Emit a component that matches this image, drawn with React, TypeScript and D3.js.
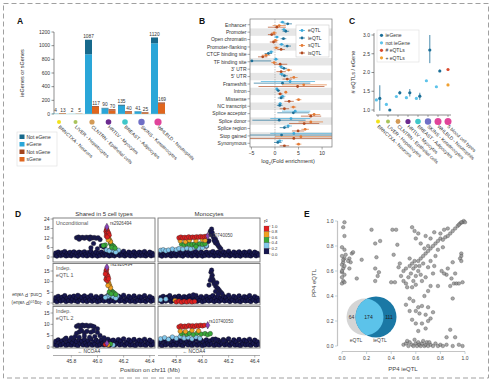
import React from 'react';
import * as d3 from 'd3';

const FONT = '"Liberation Sans", Arial, sans-serif';

// ---------- panel A ----------
const tissues = ['BRNCTXA - Neurons', 'LIVER - Hepatocytes', 'CLNTRN - Epithelial cells', 'HRTLV - Myocytes', 'BREAST - Adipocytes', 'SKINS - Keratinocytes', 'WHLBLD - Neutrophils'];
const tissueColors = ['#f2e21a', '#a9c35a', '#d39a55', '#6b2a8e', '#3fc7c9', '#6f6fc6', '#e0449a'];
const ieGeneTotals = [4, 2, 1087, 90, 135, 41, 1120];
const eGeneCounts = [3, 2, 874, 80, 120, 36, 1035];
const isGeneTotals = [13, 5, 117, 70, 40, 25, 169];
const sGeneCounts = [10, 4, 105, 50, 25, 15, 150];
const legendA = ['Not eGene', 'eGene', 'Not sGene', 'sGene'];
const legendAColors = ['#17698c', '#2aa6d8', '#a3441c', '#e0661e'];

// ---------- panel B ----------
const annotations = ['Enhancer', 'Promoter', 'Open chromatin', 'Promoter-flanking', 'CTCF binding site', 'TF binding site', "3' UTR", "5' UTR", 'Frameshift', 'Intron', 'Missense', 'NC transcript', 'Splice acceptor', 'Splice donor', 'Splice region', 'Stop gained', 'Synonymous'];
const qtlTypes = ['eQTL', 'ieQTL', 'sQTL', 'isQTL'];
const qtlColors = ['#3ba9da', '#1c6f98', '#e47b35', '#b24a1f'];
// [estimate, lower, upper]
const eqtlEnrich = [[1.6, 1.0, 2.2], [1.9, 1.4, 2.4], [0.4, -0.1, 0.9], [1.4, 0.9, 1.9], [-0.8, -1.3, -0.3], [0.2, -0.3, 0.7], [1.3, 0.8, 1.8], [1.4, 0.9, 1.9], [3.2, -3, 8.5], [0.4, 0.1, 0.7], [1.6, 1.0, 2.2], [1.1, 0.7, 1.5], [4.3, 1.5, 7.5], [3.4, -1, 7.5], [2.8, 2.0, 3.6], [4.0, -1, 12.5], [1.0, 0.3, 1.7]];
const ieqtlEnrich = [[2.7, 1.8, 3.6], [2.3, 1.6, 3.0], [1.8, 1.2, 2.4], [2.6, 1.8, 3.4], [-1.4, -2.2, -0.6], [-4.9, -5.5, -0.8], [1.9, 1.2, 2.6], [2.0, 1.3, 2.7], [1.6, -4.5, 7.5], [0.7, 0.3, 1.1], [1.3, 0.6, 2.0], [1.0, 0.4, 1.6], [3.9, 0.5, 7.3], [0.9, -4.8, 6.5], [2.0, 1.0, 3.0], [1.4, -6, 12.5], [0.6, -0.2, 1.4]];
const sqtlEnrich = [[0.9, -0.5, 2.3], [-0.2, -0.8, 0.4], [0.1, -0.5, 0.7], [0.3, -0.3, 0.9], [-1.9, -2.8, -1.0], [-0.2, -0.8, 0.4], [2.9, 2.2, 3.6], [4.0, 3.2, 4.8], [6.1, 1.5, 11], [2.3, 2.0, 2.6], [5.0, 4.4, 5.6], [3.9, 3.3, 4.5], [8.3, 7.0, 9.6], [7.6, 5.0, 10.2], [6.4, 5.6, 7.2], [5.5, 0, 12.5], [5.0, 4.4, 5.6]];
const isqtlEnrich = [[0.4, -1.5, 2.3], [-0.7, -1.5, 0.1], [-0.3, -1.1, 0.5], [1.3, 0.5, 2.1], [-2.6, -3.6, -1.6], [1.1, -0.2, 2.6], [1.3, 0.3, 2.3], [2.6, 1.6, 3.6], [4.8, -3.5, 10.5], [1.1, 0.6, 1.6], [3.0, 2.0, 4.0], [2.0, 1.0, 3.0], [7.6, 5.5, 9.8], [6.2, 3.0, 9.4], [4.9, 3.6, 6.2], [4.0, -6, 12.5], [2.0, 1.0, 3.0]];
const enrichSeries = [eqtlEnrich, ieqtlEnrich, sqtlEnrich, isqtlEnrich];

// ---------- panel C ----------
const tissuesC = [...tissues, '5 blood cell types'];
const tissueColorsC = [...tissueColors, '#e0449a'];
const notIeGeneRatio = [1.27, 1.15, 1.36, 1.33, 1.31, 1.78, 1.62];
const ieGeneRatio = [1.31, 1.0, 1.46, 1.46, 1.37, 2.6, 2.04];
const ieGeneLo = [0.98, 1.0, 1.41, 1.36, 1.27, 2.25, 2.01];
const ieGeneHi = [1.66, 1.0, 1.51, 1.56, 1.46, 3.0, 2.08];
const bloodHashEqtls = 2.08;
const bloodPlusEqtls = 1.67;
const legendC = ['ieGene', 'not ieGene', '# eQTLs', '+ eQTLs'];
const legendCColors = ['#1c6f98', '#5cc3ea', '#d9482b', '#f0a030'];

// ---------- panel D ----------
const r2Colors = ['#17174f', '#84c8ec', '#3aaa3a', '#f0a020', '#e02020', '#8a44b8'];
const r2Labels = ['1.0', '0.8', '0.6', '0.4', '0.2', '0.0'];
const locusBaseline = [[45.67, 1.2], [45.68, 2.5], [45.69, 0.6], [45.70, 3.1], [45.71, 1.8], [45.72, 0.9], [45.73, 2.7], [45.74, 1.4], [45.75, 3.4], [45.76, 0.7], [45.77, 2.2], [45.78, 1.1], [45.79, 2.9], [45.80, 0.8], [45.81, 1.9], [45.82, 3.2], [45.83, 1.0], [45.84, 2.4], [45.85, 0.6], [45.86, 3.0], [45.87, 1.5], [45.88, 2.6], [45.89, 0.9], [45.90, 3.3], [45.91, 1.7], [45.92, 0.7], [45.93, 2.8], [45.94, 1.3], [45.95, 3.5], [45.96, 0.8], [45.97, 2.1], [45.98, 1.2], [45.99, 3.0], [46.00, 0.6], [46.01, 2.3], [46.02, 1.0], [46.03, 3.1], [46.04, 1.6], [46.05, 0.9], [46.06, 2.7], [46.07, 1.3], [46.08, 3.4], [46.09, 0.7], [46.10, 2.5], [46.11, 1.1], [46.12, 3.0], [46.13, 0.8], [46.14, 2.2], [46.15, 1.5], [46.16, 3.2], [46.17, 0.9], [46.18, 2.6], [46.19, 1.2], [46.20, 3.6], [46.21, 0.7], [46.22, 2.0], [46.23, 1.4], [46.24, 3.1], [46.25, 0.8], [46.26, 2.4], [46.27, 1.0], [46.28, 3.3], [46.29, 0.6], [46.30, 2.2], [46.31, 1.3], [46.32, 3.0], [46.33, 0.9], [46.34, 2.6], [46.35, 1.1], [46.36, 3.4], [46.37, 0.7], [46.38, 2.1], [46.39, 1.5], [46.40, 3.0], [46.41, 0.8], [46.42, 2.3], [46.43, 1.2]];
// [position Mb, -log10 p, r2 class (0 navy .. 4 red, 5 lead)]
const sharedUncond = [[45.84, 12.2, 0], [45.855, 12.6, 0], [45.87, 12.0, 0], [45.885, 12.4, 0], [45.9, 11.9, 0], [45.915, 12.5, 0], [45.93, 12.1, 0], [45.945, 12.6, 0], [45.96, 12.0, 0], [45.975, 12.3, 0], [45.99, 11.8, 0], [46.005, 12.2, 0], [45.86, 11.2, 0], [45.94, 11.3, 0], [46.02, 11.0, 0], [45.97, 8.5, 0], [46.03, 7.0, 0], [46.05, 6.2, 0], [45.95, 5.8, 0], [46.0, 5.2, 0],
  [46.07, 4.4, 1], [46.1, 4.6, 1], [46.115, 4.1, 1], [46.13, 4.9, 1], [46.145, 3.6, 1], [46.09, 3.9, 1], [46.16, 4.3, 1], [46.14, 3.0, 1],
  [46.1, 8.6, 2], [46.105, 7.8, 2], [46.115, 7.2, 2], [46.125, 6.6, 2], [46.11, 6.0, 2], [46.06, 7.6, 2], [46.045, 7.2, 2], [46.135, 5.6, 2],
  [46.085, 12.0, 3], [46.09, 11.0, 3], [46.095, 10.3, 3], [46.1, 9.6, 3], [46.082, 10.8, 3],
  [46.065, 16.2, 4], [46.07, 17.6, 4], [46.075, 16.8, 4], [46.08, 15.6, 4], [46.07, 14.8, 4], [46.078, 14.0, 4], [46.085, 15.0, 4], [46.068, 13.2, 4], [46.09, 13.8, 4], [46.075, 12.6, 4],
  [46.072, 19.0, 5]];
const monoUncond = [[46.06, 16.2, 0], [46.065, 14.2, 0], [46.07, 17.6, 0], [46.075, 15.3, 0], [46.08, 13.4, 0], [46.085, 12.2, 0], [46.09, 10.5, 0], [46.1, 8.8, 0], [46.11, 9.4, 0], [46.12, 7.2, 0], [46.13, 6.1, 0], [46.1, 11.2, 0], [46.14, 5.2, 0], [46.05, 10.2, 0], [46.04, 9.6, 0], [46.03, 6.8, 0], [46.095, 9.8, 0], [46.115, 8.0, 0],
  [45.68, 4.2, 1], [45.7, 4.6, 1], [45.72, 3.9, 1], [45.74, 4.4, 1], [45.77, 5.0, 1], [45.8, 4.6, 1], [45.82, 5.3, 1], [45.85, 4.9, 1], [45.88, 5.6, 1], [45.91, 5.1, 1], [45.94, 6.0, 1], [45.97, 5.6, 1], [46.0, 5.8, 1], [46.03, 7.1, 1],
  [45.84, 8.1, 2], [45.86, 7.7, 2], [45.88, 8.3, 2], [45.9, 8.0, 2], [45.92, 7.8, 2], [45.94, 8.2, 2], [45.96, 8.1, 2], [45.98, 8.4, 2], [46.0, 8.0, 2], [46.02, 8.3, 2], [45.95, 6.6, 2],
  [45.83, 10.2, 3], [45.87, 9.6, 3], [45.9, 10.6, 3], [45.95, 10.3, 3], [46.0, 11.0, 3], [46.02, 10.4, 3],
  [45.82, 12.1, 4], [45.835, 12.6, 4], [45.85, 12.0, 4], [45.865, 12.4, 4], [45.88, 12.1, 4], [45.895, 12.7, 4], [45.91, 12.2, 4], [45.925, 12.6, 4], [45.94, 12.3, 4], [45.955, 12.8, 4], [45.97, 12.5, 4], [45.985, 12.9, 4], [46.0, 12.6, 4], [46.015, 12.9, 4], [46.03, 13.1, 4],
  [46.04, 13.2, 5]];
const sharedIndep1 = [[45.85, 3.6, 0],
  [46.08, 3.1, 1], [46.1, 3.6, 1], [46.12, 2.9, 1], [46.15, 3.2, 1], [46.06, 2.6, 1], [46.14, 2.2, 1],
  [46.1, 6.0, 2], [46.11, 5.5, 2], [46.12, 5.0, 2], [46.13, 4.5, 2], [46.09, 5.1, 2], [46.14, 4.0, 2], [46.105, 4.3, 2],
  [46.085, 9.6, 3], [46.09, 8.6, 3], [46.095, 7.8, 3], [46.1, 7.1, 3], [46.08, 8.2, 3],
  [46.065, 15.0, 4], [46.07, 14.0, 4], [46.075, 13.0, 4], [46.07, 12.0, 4], [46.065, 11.0, 4], [46.08, 12.5, 4], [46.075, 10.5, 4], [46.06, 13.6, 4], [46.085, 11.4, 4], [46.07, 15.8, 4],
  [46.072, 16.8, 5]];
const monoIndep1 = [[46.065, 14.4, 0], [46.07, 15.4, 0], [46.075, 13.0, 0], [46.07, 12.0, 0], [46.08, 11.0, 0], [46.085, 10.0, 0], [46.09, 9.0, 0], [46.1, 8.0, 0], [46.11, 7.2, 0], [46.12, 6.6, 0], [46.13, 5.8, 0], [46.14, 5.0, 0], [46.15, 4.4, 0], [46.1, 5.4, 0], [46.06, 10.6, 0], [46.05, 8.4, 0], [46.11, 9.5, 0], [46.12, 4.2, 0], [45.93, 3.8, 0],
  [45.68, 1.5, 1], [45.72, 1.8, 1], [45.79, 1.2, 3],
  [45.8, 0.5, 4], [45.82, 0.9, 4], [45.84, 0.4, 4], [45.86, 0.8, 4], [45.88, 0.5, 4], [45.9, 0.9, 4], [45.92, 0.5, 4], [45.94, 0.7, 4]];
const sharedIndep2 = [[45.84, 9.1, 0], [45.855, 9.6, 0], [45.87, 9.2, 0], [45.885, 9.7, 0], [45.9, 9.3, 0], [45.915, 9.6, 0], [45.93, 9.1, 0], [45.945, 9.5, 0], [45.96, 9.2, 0], [45.975, 8.9, 0], [45.87, 8.4, 0], [46.0, 8.0, 0], [45.86, 6.6, 0], [45.88, 7.1, 0], [45.9, 6.3, 0], [45.92, 6.9, 0], [45.95, 6.5, 0], [45.97, 7.1, 0], [46.0, 6.4, 0], [45.84, 6.0, 0], [45.8, 4.1, 0], [45.83, 4.6, 0], [45.86, 4.3, 0], [45.9, 4.9, 0], [45.94, 4.3, 0], [45.98, 4.6, 0], [46.02, 5.0, 0], [46.05, 4.1, 0], [45.76, 3.9, 0],
  [46.12, 0.9, 1], [46.1, 1.3, 2], [46.08, 0.9, 3], [46.06, 1.1, 4], [46.072, 1.6, 5]];
const monoIndep2 = [[46.1, 3.5, 0], [46.16, 2.8, 0],
  [45.68, 3.6, 1], [45.71, 4.1, 1], [45.74, 3.4, 1], [45.77, 4.4, 1], [45.8, 3.8, 1], [45.83, 4.6, 1], [45.86, 3.9, 1], [45.89, 4.2, 1], [45.92, 3.6, 1], [45.95, 4.4, 1], [45.98, 3.8, 1],
  [45.84, 5.8, 2], [45.86, 6.2, 2], [45.88, 5.6, 2], [45.9, 6.0, 2], [45.93, 5.5, 2], [45.96, 6.1, 2], [45.99, 5.7, 2], [46.02, 5.9, 2], [46.04, 5.4, 2], [46.06, 5.9, 2],
  [45.83, 7.0, 3], [45.87, 6.8, 3], [45.92, 7.3, 3], [45.97, 7.1, 3],
  [45.82, 8.9, 4], [45.835, 9.3, 4], [45.85, 8.8, 4], [45.865, 9.2, 4], [45.88, 9.0, 4], [45.895, 9.5, 4], [45.91, 9.1, 4], [45.925, 9.4, 4], [45.94, 9.0, 4], [45.955, 9.5, 4], [45.97, 9.2, 4], [45.985, 9.6, 4], [46.0, 9.3, 4], [46.015, 9.6, 4],
  [46.04, 9.6, 5]];
const positionTicks = [45.8, 46.0, 46.2, 46.4];

// ---------- panel E ----------
const pp4Points = [[0.02, 0.99], [0.01, 0.95], [0.02, 0.88], [0.0, 0.79], [0.02, 0.77], [0.0, 0.72], [0.02, 0.70], [0.03, 0.73], [0.01, 0.67], [0.0, 0.65], [0.01, 0.62], [0.0, 0.59], [0.02, 0.57], [0.0, 0.55], [0.01, 0.52], [0.0, 0.50], [0.02, 0.51], [0.0, 0.60], [0.02, 0.64], [0.01, 0.69],
  [0.08, 0.74], [0.06, 0.70], [0.07, 0.67], [0.09, 0.75], [0.06, 0.62], [0.05, 0.68], [0.12, 0.54], [0.16, 0.69], [0.24, 0.93], [0.27, 0.82], [0.27, 0.62], [0.28, 0.71], [0.29, 0.56], [0.30, 0.59], [0.31, 0.84], [0.27, 0.52],
  [0.41, 0.93], [0.44, 0.93], [0.45, 0.81], [0.42, 0.73], [0.40, 0.51], [0.43, 0.51], [0.46, 0.63], [0.47, 0.66],
  [0.5, 0.6], [0.52, 0.62], [0.55, 0.64], [0.57, 0.66], [0.58, 0.62], [0.6, 0.64], [0.62, 0.68], [0.64, 0.70], [0.66, 0.72], [0.68, 0.74], [0.70, 0.76], [0.72, 0.78], [0.74, 0.80], [0.76, 0.82], [0.78, 0.84], [0.80, 0.86], [0.82, 0.85], [0.84, 0.87], [0.86, 0.88], [0.88, 0.90], [0.90, 0.92], [0.92, 0.94], [0.94, 0.96], [0.96, 0.98], [0.98, 0.99], [0.99, 1.0], [0.97, 0.99], [0.95, 0.97], [1.0, 0.99],
  [0.48, 0.56], [0.50, 0.52], [0.52, 0.50], [0.54, 0.55], [0.56, 0.58], [0.58, 0.52], [0.60, 0.56], [0.62, 0.60], [0.64, 0.57], [0.53, 0.47], [0.57, 0.47], [0.60, 0.49], [0.65, 0.52], [0.68, 0.55], [0.70, 0.63], [0.72, 0.68], [0.66, 0.66], [0.63, 0.64], [0.59, 0.68], [0.55, 0.70],
  [0.57, 0.95], [0.59, 0.92], [0.62, 0.90], [0.60, 0.86], [0.64, 0.82], [0.68, 0.88], [0.72, 0.86], [0.75, 0.91], [0.80, 0.90], [0.83, 0.93], [0.86, 0.94], [0.70, 0.80], [0.67, 0.78], [0.78, 0.77], [0.82, 0.79], [0.76, 0.72],
  [0.97, 0.74], [0.97, 0.72], [0.96, 0.70], [0.97, 0.68], [0.90, 0.67], [0.92, 0.58], [0.91, 0.50], [0.89, 0.54], [0.86, 0.62], [0.85, 0.57], [0.93, 0.50], [0.95, 0.50], [0.88, 0.48], [0.90, 0.38], [0.98, 0.51], [0.83, 0.58], [0.81, 0.60], [0.75, 0.64], [0.74, 0.58], [0.78, 0.48], [0.72, 0.48], [0.70, 0.44],
  [0.55, 0.38], [0.58, 0.36], [0.62, 0.31], [0.65, 0.32], [0.60, 0.28], [0.63, 0.26], [0.68, 0.25], [0.70, 0.31], [0.67, 0.40], [0.72, 0.22], [0.74, 0.27], [0.57, 0.21], [0.60, 0.18], [0.65, 0.18], [0.68, 0.14], [0.70, 0.20], [0.52, 0.33], [0.55, 0.28], [0.62, 0.12], [0.88, 0.13], [0.92, 0.07], [0.85, 0.07],
  [0.50, 0.01], [0.52, 0.02], [0.54, 0.0], [0.55, 0.03], [0.57, 0.01], [0.58, 0.0], [0.6, 0.02], [0.61, 0.0], [0.62, 0.03], [0.63, 0.01], [0.64, 0.0], [0.65, 0.02], [0.66, 0.04], [0.67, 0.0], [0.68, 0.01], [0.69, 0.03], [0.70, 0.0], [0.72, 0.01], [0.74, 0.0], [0.76, 0.02], [0.78, 0.0], [0.80, 0.01], [0.82, 0.0], [0.85, 0.01], [0.90, 0.0], [0.95, 0.01], [0.98, 0.0], [0.53, 0.04], [0.59, 0.05], [0.71, 0.03]];
const vennCounts = [64, 174, 111];
const unitTicks = [0, 0.2, 0.4, 0.6, 0.8, 1.0];

const label = (s: string, x: number, y: number) => (
  <text x={x} y={y} fontSize={8.5} fontWeight="bold" fill="#111">{s}</text>
);

function PanelA() {
  const x = d3.scaleBand<number>().domain(d3.range(tissues.length)).range([50.75, 166.25]);
  const y = d3.scaleLinear().domain([0, 1200]).range([114, 32]);
  const bw = 7;
  return (
    <g>
      {label('A', 17, 24)}
      <line x1={54} x2={54} y1={y(1200)} y2={y(0)} stroke="#444" strokeWidth={0.6} />
      {y.ticks(6).map(t => (
        <g key={t}>
          <line x1={51.5} x2={54} y1={y(t)} y2={y(t)} stroke="#444" strokeWidth={0.6} />
          <text x={50} y={y(t) + 1.8} textAnchor="end" fontSize={5} fill="#333">{t}</text>
        </g>
      ))}
      <text transform="translate(24,73) rotate(-90)" textAnchor="middle" fontSize={5.5} fill="#333">ieGenes or sGenes</text>
      {tissues.map((name, i) => {
        const c = x(i)! + x.bandwidth() / 2;
        return (
          <g key={name}>
            <rect x={c - bw} width={bw} y={y(eGeneCounts[i])} height={y(0) - y(eGeneCounts[i])} fill={legendAColors[1]} />
            <rect x={c - bw} width={bw} y={y(ieGeneTotals[i])} height={y(eGeneCounts[i]) - y(ieGeneTotals[i])} fill={legendAColors[0]} />
            <rect x={c} width={bw} y={y(sGeneCounts[i])} height={y(0) - y(sGeneCounts[i])} fill={legendAColors[3]} />
            <rect x={c} width={bw} y={y(isGeneTotals[i])} height={y(sGeneCounts[i]) - y(isGeneTotals[i])} fill={legendAColors[2]} />
            <text x={c - bw / 2} y={y(ieGeneTotals[i]) - 1.5} textAnchor="middle" fontSize={4.8} fill="#333">{ieGeneTotals[i]}</text>
            <text x={c + bw / 2 + 0.5} y={y(isGeneTotals[i]) - 1.5} textAnchor="middle" fontSize={4.8} fill="#333">{isGeneTotals[i]}</text>
            <circle cx={c} cy={122} r={[2, 2, 2.6, 2.8, 2.8, 3.2, 3.6][i]} fill={tissueColors[i]} />
            <text transform={`translate(${c - 1},${127.5}) rotate(43)`} fontSize={4.8} fill="#333">{name}</text>
          </g>
        );
      })}
      <line x1={52} x2={166} y1={y(0)} y2={y(0)} stroke="#9cc" strokeWidth={0.5} />
      <rect x={17} y={132} width={40} height={34} fill="#fff" stroke="#ddd" strokeWidth={0.6} />
      {legendA.map((s, i) => (
        <g key={s}>
          <rect x={19.5} y={134.5 + i * 7.5} width={5} height={4.5} fill={legendAColors[i]} />
          <text x={26.5} y={138.6 + i * 7.5} fontSize={5} fill="#333">{s}</text>
        </g>
      ))}
    </g>
  );
}

function PanelB() {
  const x = d3.scaleLinear().domain([-5.3, 12.1]).range([250, 332]);
  const y = d3.scaleBand<string>().domain(annotations).range([21, 147]);
  const offsets = [-2.5, -0.85, 0.85, 2.5];
  return (
    <g>
      {label('B', 199, 24)}
      <defs>
        <clipPath id="clipB"><rect x={250} y={19} width={82} height={128} /></clipPath>
      </defs>
      {annotations.map((a, i) => i % 2 === 1 ? (
        <rect key={a} x={250} width={82} y={y(a)!} height={y.bandwidth()} fill="#e6e6e6" />
      ) : null)}
      <line x1={x(0)} x2={x(0)} y1={19} y2={147} stroke="#999" strokeWidth={0.6} strokeDasharray="1.5,1" />
      <g clipPath="url(#clipB)">
        {enrichSeries.map((series, s) => series.map((d, i) => {
          const cy = y(annotations[i])! + y.bandwidth() / 2 + offsets[s];
          return (
            <g key={s + '-' + i}>
              <line x1={x(d[1])} x2={x(d[2])} y1={cy} y2={cy} stroke={qtlColors[s]} strokeWidth={0.8} opacity={0.85} />
              <circle cx={x(d[0])} cy={cy} r={1.4} fill={qtlColors[s]} />
            </g>
          );
        }))}
      </g>
      <rect x={250} y={19} width={82} height={128} fill="none" stroke="#777" strokeWidth={0.7} />
      {annotations.map(a => (
        <g key={a}>
          <line x1={247.5} x2={250} y1={y(a)! + y.bandwidth() / 2} y2={y(a)! + y.bandwidth() / 2} stroke="#555" strokeWidth={0.5} />
          <text x={246.5} y={y(a)! + y.bandwidth() / 2 + 1.8} textAnchor="end" fontSize={5} fill="#333">{a}</text>
        </g>
      ))}
      {[-5, 0, 5, 10].map(t => (
        <g key={t}>
          <line x1={x(t)} x2={x(t)} y1={147} y2={149.5} stroke="#555" strokeWidth={0.5} />
          <text x={x(t)} y={155} textAnchor="middle" fontSize={5.2} fill="#333">{t === -5 ? '−5' : t}</text>
        </g>
      ))}
      <text x={288} y={163} textAnchor="middle" fontSize={5.6} fill="#333">log<tspan fontSize={4} dy={1.5}>2</tspan><tspan dy={-1.5}>(Fold enrichment)</tspan></text>
      <rect x={296} y={25} width={33} height={32} fill="#fff" stroke="#ccc" strokeWidth={0.6} />
      {qtlTypes.map((q, i) => (
        <g key={q}>
          <line x1={299} x2={305} y1={30.5 + i * 7.5} y2={30.5 + i * 7.5} stroke={qtlColors[i]} strokeWidth={0.7} />
          <circle cx={302} cy={30.5 + i * 7.5} r={1.4} fill={qtlColors[i]} />
          <text x={308} y={32.3 + i * 7.5} fontSize={5} fill="#333">{q}</text>
        </g>
      ))}
    </g>
  );
}

function PanelC() {
  const x = d3.scaleBand<number>().domain(d3.range(tissuesC.length)).range([373, 453]);
  const y = d3.scaleLinear().domain([1, 3]).range([110, 35]);
  const cx = (i: number) => x(i)! + x.bandwidth() / 2;
  return (
    <g>
      {label('C', 349, 24)}
      <line x1={374} x2={374} y1={33} y2={112} stroke="#444" strokeWidth={0.6} />
      {[1.0, 1.5, 2.0, 2.5, 3.0].map(t => (
        <g key={t}>
          <line x1={371.5} x2={374} y1={y(t)} y2={y(t)} stroke="#444" strokeWidth={0.6} />
          <text x={370} y={y(t) + 1.8} textAnchor="end" fontSize={5} fill="#333">{t.toFixed(1)}</text>
        </g>
      ))}
      <line x1={376} x2={451} y1={115} y2={115} stroke="#444" strokeWidth={0.6} />
      <text transform="translate(355,72) rotate(-90)" textAnchor="middle" fontSize={5.6} fill="#333"># eQTLs / eGene</text>
      {tissuesC.map((name, i) => (
        <g key={name}>
          <line x1={cx(i)} x2={cx(i)} y1={115} y2={117} stroke="#444" strokeWidth={0.5} />
          <circle cx={cx(i)} cy={121.5} r={[2, 2, 2.4, 2.6, 2.8, 3.2, 3.5, 3.5][i]} fill={tissueColorsC[i]} />
          <text transform={`translate(${cx(i) - 1},${127}) rotate(43)`} fontSize={4.8} fill="#333">{name}</text>
        </g>
      ))}
      {notIeGeneRatio.map((v, i) => (
        <circle key={'n' + i} cx={cx(i) - 1.6} cy={y(v)} r={1.6} fill={legendCColors[1]} />
      ))}
      {ieGeneRatio.map((v, i) => (
        <g key={'i' + i}>
          <line x1={cx(i) + 1.8} x2={cx(i) + 1.8} y1={y(ieGeneLo[i])} y2={y(ieGeneHi[i])} stroke={legendCColors[0]} strokeWidth={0.8} />
          <circle cx={cx(i) + 1.8} cy={y(v)} r={1.6} fill={legendCColors[0]} />
        </g>
      ))}
      <circle cx={cx(7)} cy={y(bloodHashEqtls)} r={1.6} fill={legendCColors[2]} />
      <circle cx={cx(7)} cy={y(bloodPlusEqtls)} r={1.6} fill={legendCColors[3]} />
      <rect x={377} y={30} width={42} height={32} fill="#fff" stroke="#ddd" strokeWidth={0.6} />
      {legendC.map((s, i) => (
        <g key={s}>
          <circle cx={381.5} cy={35.3 + i * 7.5} r={1.6} fill={legendCColors[i]} />
          <text x={385.5} y={37.1 + i * 7.5} fontSize={5} fill="#333">{s}</text>
        </g>
      ))}
    </g>
  );
}

const diamond = d3.symbol().type(d3.symbolDiamond).size(16)()!;

function LocusPanel({ x0, x1, top, bottom, y, pts, id, leftAxis, ticks, note, snp, box }: any) {
  const x = d3.scaleLinear().domain([45.66, 46.44]).range([x0, x1]);
  const order = [0, 1, 2, 3, 4, 5];
  return (
    <g>
      <defs>
        <clipPath id={id}><rect x={x0} y={top} width={x1 - x0} height={bottom - top} /></clipPath>
      </defs>
      <g clipPath={`url(#${id})`}>
        {box && (
          <g>
            <rect x={x(box[0])} width={x(box[1]) - x(box[0])} y={y(box[3])} height={y(box[2]) - y(box[3])} fill="#b9b4dc" opacity={0.8} />
            <text x={x(box[0]) + 2} y={y(box[2]) - 2} fontSize={4.2} fill="#eeeeff">{box[4]}</text>
          </g>
        )}
        {locusBaseline.map((d, i) => (
          <circle key={'b' + i} cx={x(d[0])} cy={y(d[1])} r={2.4} fill={r2Colors[0]} stroke="#000" strokeWidth={0.3} />
        ))}
        {order.map(c => pts.filter((d: number[]) => d[2] === c).map((d: number[], i: number) => (
          c === 5 ? (
            <path key={c + '-' + i} d={diamond} transform={`translate(${x(d[0])},${y(d[1])})`} fill={r2Colors[5]} stroke="#222" strokeWidth={0.4} />
          ) : (
            <circle key={c + '-' + i} cx={x(d[0])} cy={y(d[1])} r={2.3} fill={r2Colors[c]} stroke="#222" strokeWidth={0.35} />
          )
        )))}
        {snp && <text x={x(snp[1])} y={y(snp[2])} fontSize={4.6} fill="#444">{snp[0]}</text>}
      </g>
      <rect x={x0} y={top} width={x1 - x0} height={bottom - top} fill="none" stroke="#777" strokeWidth={0.9} />
      {note && note.map((s: string, i: number) => (
        <text key={s} x={x0 + 3} y={top + 6.5 + i * 6.5} fontSize={5.3} fill="#555">{s}</text>
      ))}
      {leftAxis && ticks.map((t: number) => (
        <g key={t}>
          <line x1={x0 - 2.5} x2={x0} y1={y(t)} y2={y(t)} stroke="#555" strokeWidth={0.5} />
          <text x={x0 - 3.5} y={y(t) + 1.8} textAnchor="end" fontSize={5} fill="#333">{t}</text>
        </g>
      ))}
    </g>
  );
}

function PanelD() {
  const cols = [[53, 155], [158, 260]];
  const rows = [
    { top: 218, bottom: 262, y: d3.scaleLinear().domain([0, 24]).range([257, 219]), ticks: [0, 6, 12, 18, 24] },
    { top: 263.5, bottom: 305, y: d3.scaleLinear().domain([0, 15]).range([303, 271]), ticks: [0, 5, 10, 15] },
    { top: 306.5, bottom: 348, y: d3.scaleLinear().domain([0, 15]).range([347, 313]), ticks: [0, 5, 10, 15] },
  ];
  const panels = [
    [sharedUncond, monoUncond],
    [sharedIndep1, monoIndep1],
    [sharedIndep2, monoIndep2],
  ];
  const notes = [['Unconditional'], ['Indep.', 'eQTL 1'], ['Indep.', 'eQTL 2']];
  const snps = [
    [['rs2926494', 46.095, 20.3], ['rs10740050', 46.045, 12.6]],
    [['rs2926494', 46.1, 17.4], null],
    [null, ['rs10740050', 46.05, 10.4]],
  ];
  const boxes = [[null, null], [null, [46.035, 46.27, 0, 3.7, 'rs10740050']], [[46.096, 46.27, 0.9, 4, 'rs2926494'], null]];
  return (
    <g>
      {label('D', 15, 217)}
      <text x={104} y={216} textAnchor="middle" fontSize={6} fill="#333">Shared in 5 cell types</text>
      <text x={209} y={216} textAnchor="middle" fontSize={6} fill="#333">Monocytes</text>
      {rows.map((r, ri) => cols.map((c, ci) => (
        <LocusPanel key={ri + '-' + ci} id={`clipD${ri}${ci}`} x0={c[0]} x1={c[1]} top={r.top} bottom={r.bottom} y={r.y}
          pts={panels[ri][ci]} leftAxis={ci === 0} ticks={r.ticks} note={ci === 0 ? notes[ri] : null}
          snp={snps[ri][ci]} box={boxes[ri][ci]} />
      )))}
      <g transform="translate(27,297.5) rotate(180)">
        <text y={-3.5} textAnchor="middle" fontSize={4.8} fill="#444">-log<tspan fontSize={3.5} dy={1.2}>10</tspan><tspan dy={-1.2}>(P value)</tspan></text>
        <text y={5} textAnchor="middle" fontSize={4.8} fill="#444">Cond. P value</text>
      </g>
      {cols.map((c, ci) => {
        const x = d3.scaleLinear().domain([45.66, 46.44]).range(c);
        return (
          <g key={'ax' + ci}>
            <text x={x(46.0) - 20} y={352.5} fontSize={4.8} fill="#333">← NCOA4</text>
            <line x1={c[0]} x2={c[1]} y1={355.5} y2={355.5} stroke="#888" strokeWidth={0.7} />
            {positionTicks.map(t => (
              <g key={t}>
                <line x1={x(t)} x2={x(t)} y1={355.5} y2={357.5} stroke="#666" strokeWidth={0.5} />
                <text x={x(t)} y={363} textAnchor="middle" fontSize={5} fill="#333">{t.toFixed(1)}</text>
              </g>
            ))}
          </g>
        );
      })}
      <text x={150} y={372} textAnchor="middle" fontSize={6} fill="#444">Position on chr11 (Mb)</text>
      <text x={264} y={222.5} fontSize={5.5} fill="#333">r²</text>
      {[4, 3, 2, 1, 0].map((c, i) => (
        <rect key={c} x={264} y={226 + i * 5.6} width={5} height={5.6} fill={r2Colors[c]} stroke="#333" strokeWidth={0.2} />
      ))}
      {r2Labels.map((s, i) => (
        <g key={s}>
          <line x1={269} x2={270.5} y1={226 + i * 5.6} y2={226 + i * 5.6} stroke="#333" strokeWidth={0.4} />
          <text x={271.5} y={227.6 + i * 5.6} fontSize={4.3} fill="#333">{s}</text>
        </g>
      ))}
    </g>
  );
}

function PanelE() {
  const x = d3.scaleLinear().domain([0, 1]).range([342, 465]);
  const y = d3.scaleLinear().domain([0, 1]).range([346, 221]);
  return (
    <g>
      {label('E', 304, 217)}
      <line x1={337.5} x2={337.5} y1={y(1)} y2={y(0)} stroke="#c4c4c4" strokeWidth={1.2} />
      <line x1={x(0)} x2={x(1)} y1={351.5} y2={351.5} stroke="#c4c4c4" strokeWidth={1.2} />
      {unitTicks.map(t => (
        <g key={t}>
          <line x1={335} x2={337.5} y1={y(t)} y2={y(t)} stroke="#8ab" strokeWidth={0.5} />
          <text x={333.5} y={y(t) + 1.8} textAnchor="end" fontSize={5} fill="#444">{t.toFixed(1)}</text>
          <line x1={x(t)} x2={x(t)} y1={351.5} y2={354} stroke="#8ab" strokeWidth={0.5} />
          <text x={x(t)} y={359.5} textAnchor="middle" fontSize={5} fill="#444">{t.toFixed(1)}</text>
        </g>
      ))}
      {pp4Points.map((d, i) => (
        <circle key={i} cx={x(d[0])} cy={y(d[1])} r={1.8} fill="#8a8a8a" fillOpacity={0.75} stroke="#333" strokeWidth={0.3} />
      ))}
      <text transform="translate(316,283) rotate(-90)" textAnchor="middle" fontSize={6} fill="#444">PP4 eQTL</text>
      <text x={403} y={371} textAnchor="middle" fontSize={6} fill="#444">PP4 ieQTL</text>
      <defs>
        <clipPath id="clipVenn"><circle cx={365} cy={317} r={18.5} /></clipPath>
      </defs>
      <circle cx={365} cy={317} r={18.5} fill="#d5d5d5" />
      <circle cx={376} cy={317} r={20.5} fill="#1a78a5" />
      <circle cx={376} cy={317} r={20.5} fill="#5cc3ea" clipPath="url(#clipVenn)" />
      <text x={351.5} y={319} textAnchor="middle" fontSize={5} fill="#333">{vennCounts[0]}</text>
      <text x={368.5} y={319} textAnchor="middle" fontSize={5} fill="#222">{vennCounts[1]}</text>
      <text x={389} y={319} textAnchor="middle" fontSize={5} fill="#222">{vennCounts[2]}</text>
      <text x={356} y={342} textAnchor="middle" fontSize={5} fill="#444">eQTL</text>
      <text x={380} y={342} textAnchor="middle" fontSize={5} fill="#444">ieQTL</text>
    </g>
  );
}

export default function App() {
  return (
    <svg width={495} height={384} style={{ position: 'absolute', left: 0, top: 0, background: '#fff' }} fontFamily={FONT}>
      <rect x={0} y={0} width={495} height={384} fill="#fff" />
      <rect x={3.5} y={3.5} width={485} height={374.5} fill="none" stroke="#a0a0a0" strokeWidth={1} strokeDasharray="5,3" />
      <PanelA />
      <PanelB />
      <PanelC />
      <PanelD />
      <PanelE />
    </svg>
  );
}
